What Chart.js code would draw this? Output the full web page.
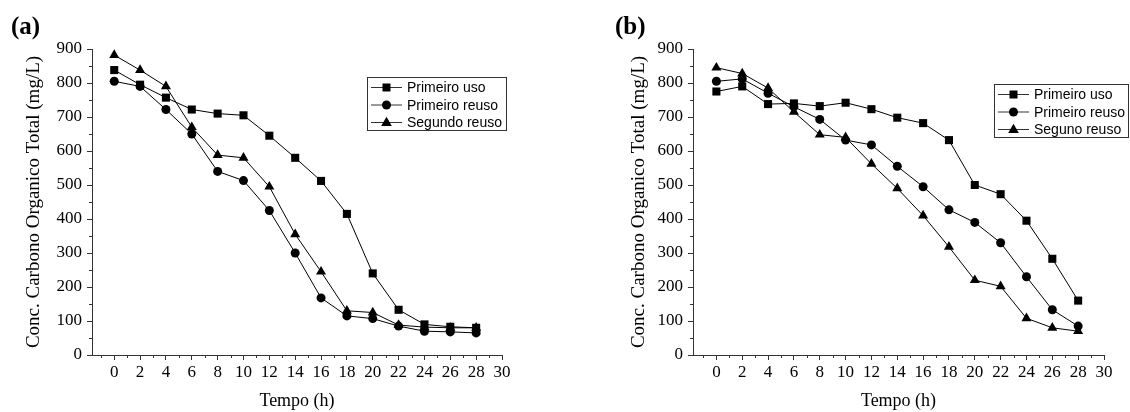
<!DOCTYPE html>
<html>
<head>
<script src="https://cdn.jsdelivr.net/npm/chart.js"></script>
<style>
  body { margin: 0; background: #fff; }
  .panel { position: absolute; top: 0; width: 565px; height: 412px; }
</style>
</head>
<body>
<div class="panel" style="left:0"><canvas id="chartA" width="565" height="412"></canvas></div>
<div class="panel" style="left:565px"><canvas id="chartB" width="565" height="412"></canvas></div>
<script>
// sampling times (h)
const hours = [0, 2, 4, 6, 8, 10, 12, 14, 16, 18, 20, 22, 24, 26, 28];
const xTicks = [0, 2, 4, 6, 8, 10, 12, 14, 16, 18, 20, 22, 24, 26, 28, 30];

// panel (a)
const namesA = ['Primeiro uso', 'Primeiro reuso', 'Segundo reuso'];
const a_primeiroUso   = [838, 795, 757, 722, 710, 705, 645, 580, 512, 415, 240, 133, 90, 83, 80];
const a_primeiroReuso = [805, 790, 722, 650, 540, 513, 425, 300, 168, 115, 107, 85, 70, 68, 65];
const a_segundoReuso  = [882, 838, 790, 670, 588, 580, 495, 355, 245, 130, 125, 88, 82, 80, 80];

// panel (b)
const namesB = ['Primeiro uso', 'Primeiro reuso', 'Seguno reuso'];
const b_primeiroUso   = [775, 790, 738, 740, 732, 742, 723, 698, 682, 632, 500, 473, 395, 283, 160];
const b_primeiroReuso = [805, 812, 770, 730, 693, 632, 618, 555, 495, 427, 390, 330, 230, 133, 85];
const b_segundoReuso  = [845, 828, 785, 715, 648, 640, 562, 490, 410, 318, 220, 202, 108, 80, 70];

const markers = ['rect', 'circle', 'triangle'];
const radii = [5.7, 4.5, 5.8];

function symbol(ctx, style, x, y) {
  ctx.beginPath();
  if (style === 'rect') {
    ctx.rect(x - 4, y - 4, 8, 8);
  } else if (style === 'circle') {
    ctx.arc(x, y, 4.5, 0, Math.PI * 2);
  } else {
    ctx.moveTo(x, y - 5.8);
    ctx.lineTo(x + 5.3, y + 3.6);
    ctx.lineTo(x - 5.3, y + 3.6);
    ctx.closePath();
  }
  ctx.fill();
}

const boxLegend = {
  id: 'boxLegend',
  afterDraw(chart, args, o) {
    const ctx = chart.ctx;
    ctx.save();
    ctx.strokeStyle = '#333';
    ctx.fillStyle = '#000';
    ctx.lineWidth = 1;
    ctx.strokeRect(o.x + 0.5, o.y + 0.5, o.w, o.h);
    ctx.font = '14px "Liberation Sans", Arial, sans-serif';
    ctx.textBaseline = 'middle';
    chart.data.datasets.forEach((ds, i) => {
      const cy = o.y + 10.5 + i * 17.5;
      ctx.beginPath();
      ctx.moveTo(o.x + 4, cy);
      ctx.lineTo(o.x + 35, cy);
      ctx.stroke();
      symbol(ctx, ds.pointStyle, o.x + 19.5, cy);
      ctx.fillText(ds.label, o.x + 40, cy + 1);
    });
    ctx.restore();
  }
};

const panelLabel = {
  id: 'panelLabel',
  afterDraw(chart, args, o) {
    const ctx = chart.ctx;
    ctx.save();
    ctx.font = 'bold 25px "Liberation Serif", "Times New Roman", serif';
    ctx.fillStyle = '#000';
    ctx.textBaseline = 'alphabetic';
    ctx.fillText(o.text, o.x, o.y);
    ctx.restore();
  }
};

// short minor ticks between the labelled ones
const minorTicks = {
  id: 'minorTicks',
  afterDraw(chart) {
    const ctx = chart.ctx;
    const xs = chart.scales.x, ys = chart.scales.y;
    ctx.save();
    ctx.strokeStyle = '#333';
    ctx.lineWidth = 1;
    ctx.beginPath();
    for (let h = -1; h < 30; h += 2) {
      const px = Math.round(xs.getPixelForValue(h)) + 0.5;
      ctx.moveTo(px, xs.top);
      ctx.lineTo(px, xs.top + 3);
    }
    for (let v = 50; v < 900; v += 100) {
      const py = Math.round(ys.getPixelForValue(v)) + 0.5;
      ctx.moveTo(ys.right, py);
      ctx.lineTo(ys.right - 3, py);
    }
    ctx.stroke();
    ctx.restore();
  }
};

const serif = '"Liberation Serif", "Times New Roman", serif';

function makeChart(id, series, names, cfg) {
  return new Chart(document.getElementById(id), {
    type: 'line',
    data: {
      datasets: series.map((s, i) => ({
        label: names[i],
        data: hours.map((h, j) => ({ x: h, y: s[j] })),
        borderColor: '#000',
        backgroundColor: '#000',
        borderWidth: 1,
        pointStyle: markers[i],
        pointRadius: radii[i],
        pointHoverRadius: radii[i],
        pointBorderWidth: 0,
        tension: 0
      }))
    },
    options: {
      responsive: false,
      animation: false,
      layout: { padding: { left: cfg.padLeft, right: cfg.padRight, top: 49, bottom: 0 } },
      plugins: {
        legend: { display: false },
        tooltip: { enabled: false },
        boxLegend: cfg.legend,
        panelLabel: cfg.label
      },
      scales: {
        x: {
          type: 'linear',
          min: cfg.xMin,
          max: 30,
          afterBuildTicks: s => { s.ticks = xTicks.map(v => ({ value: v })); },
          afterFit: s => { s.height = 57; },
          grid: { drawOnChartArea: false, tickLength: 5, color: '#333' },
          border: { color: '#333', width: 1 },
          ticks: { font: { family: serif, size: 17 }, color: '#000', padding: 2, autoSkip: false, maxRotation: 0 },
          title: { display: true, text: 'Tempo (h)', font: { family: serif, size: 18 }, color: '#000', padding: 0 }
        },
        y: {
          min: 0,
          max: 900,
          afterFit: s => { s.width = cfg.yWidth; },
          grid: { drawOnChartArea: false, tickLength: 5, color: '#333' },
          border: { color: '#333', width: 1 },
          ticks: { stepSize: 100, font: { family: serif, size: 17 }, color: '#000', padding: 5 },
          title: { display: true, text: 'Conc. Carbono Organico Total (mg/L)', font: { family: serif, size: 19 }, color: '#000', padding: 0 }
        }
      }
    },
    plugins: [minorTicks, boxLegend, panelLabel]
  });
}

makeChart('chartA', [a_primeiroUso, a_primeiroReuso, a_segundoReuso], namesA, {
  padLeft: 23, padRight: 63, yWidth: 69, xMin: -1.72,
  legend: { x: 367, y: 77, w: 139, h: 53 },
  label: { text: '(a)', x: 11, y: 34 }
});

makeChart('chartB', [b_primeiroUso, b_primeiroReuso, b_segundoReuso], namesB, {
  padLeft: 63, padRight: 26, yWidth: 65, xMin: -1.81,
  legend: { x: 429, y: 84, w: 134, h: 53 },
  label: { text: '(b)', x: 50, y: 34 }
});
</script>
</body>
</html>
